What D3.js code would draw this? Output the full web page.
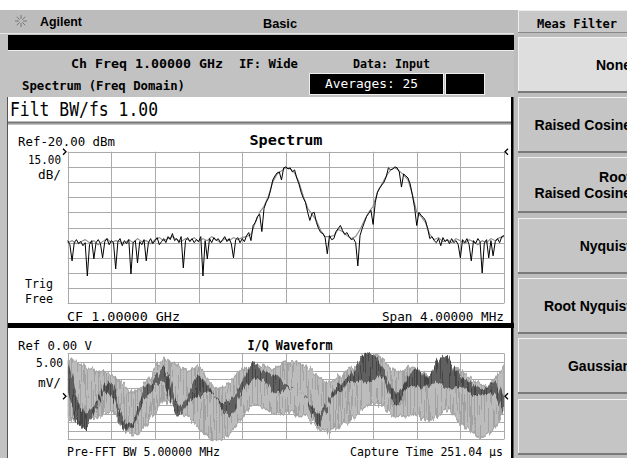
<!DOCTYPE html>
<html><head><meta charset="utf-8">
<script src="https://cdn.jsdelivr.net/npm/d3@7"></script>
<style>body{margin:0;background:#fff;overflow:hidden}svg{display:block}</style>
</head><body><svg id="c" width="627" height="458"></svg>
<script>
// ---------- DATA ----------
// Spectrum: CF 1.00000 GHz, span 4 MHz, Ref -20 dBm, 15 dB/div
const specSpanMHz = [-2, 2];
const specLevels = [-170, -20];
const specBlack = [
-108,-112,-128,-110,-107,-111,-109,-113,-110,-143,
-112,-108,-126,-110,-107,-111,-125,-109,-106,-112,
-108,-110,-136,-109,-106,-113,-108,-111,-107,-141,
-110,-108,-130,-109,-112,-107,-128,-110,-106,-111,
-108,-105,-112,-109,-106,-110,-104,-107,-101,-108,
-106,-110,-104,-135,-108,-105,-109,-106,-110,-107,
-109,-104,-143,-108,-126,-106,-110,-105,-108,-106,
-110,-107,-104,-109,-106,-111,-125,-107,-105,-110,
-106,-109,-103,-100,-108,-93,-90,-84,-82,-99,
-76,-70,-66,-58,-48,-44,-41,-40,-48,-36,
-35,-37,-36,-40,-38,-46,-52,-60,-66,-70,
-80,-88,-81,-80,-90,-96,-100,-101,-105,-121,
-103,-107,-106,-99,-96,-93,-98,-102,-100,-104,
-107,-106,-110,-133,-103,-96,-90,-84,-81,-78,
-92,-70,-60,-56,-53,-50,-45,-36,-38,-37,
-35,-36,-40,-55,-42,-44,-46,-52,-63,-75,
-93,-80,-83,-85,-88,-96,-106,-104,-108,-110,
-106,-113,-105,-109,-107,-111,-106,-110,-108,-112,
-125,-107,-110,-106,-112,-128,-108,-111,-106,-109,
-140,-110,-107,-125,-108,-123,-109,-106,-110,-104,
-103];
const specGray = [
-110,-108,-111,-109,-107,-110,-108,-112,-109,-106,
-110,-108,-109,-111,-107,-110,-106,-109,-108,-111,
-107,-105,-108,-106,-104,-107,-109,-106,-108,-105,
-109,-106,-108,-104,-107,-110,-106,-108,-105,-107,
-105,-104,-102,-90,-80,-74,-64,-50,-42,-39,
-36,-37,-41,-50,-64,-76,-82,-88,-98,-104,
-104,-103,-97,-99,-103,-106,-104,-97,-88,-80,
-74,-60,-52,-44,-38,-36,-39,-43,-48,-62,
-80,-84,-90,-102,-107,-105,-109,-107,-110,-106,
-108,-111,-107,-109,-112,-108,-110,-106,-108,-105,
-104];

// I/Q waveform: Ref 0 V (centre), 5 mV/div, capture time 251.04 us
const iqCaptureUs = 251.04;
const iqRangeMv = [-25, 25];
const iqLightHi = [20.9,19.8,16.3,14,14,6.4,0.6,6.4,15,23.8,18,12.2,19.8,6.4,3.5,9.3,15,19.8,18,15,20.9,19.8,18,10.5,6.4,12.2,16.3,20.9,25,22,12.2,16.3,18,9.3,18,20.9,14,10.5,4.6,8,18];
const iqLightLo = [-14,-12.8,-14,-12.8,-5.2,-18.6,-23.8,-19.8,-8,0.6,-9.3,-11,-16.9,-25.6,-25.6,-19.8,-11,-2.3,-8,-11,-8,-11,-11,-19.8,-21.5,-16.9,-14,-8,-2.3,-5.2,-14,-11,-8,-16.9,-11,-5.2,-16.9,-19.8,-25.6,-20.9,-8];
const iqDarkHi = [21,-8,-12,2,15,-15,-20,10,5,25.5,-12,0,15,5,-5,-2,5,25,12,15,5,5,0,-15,0,9,10,25,26,15,-2,8,21,5,25,25,8,10,0,12,0];
const iqDarkLo = [3,-20,-20,2,5,-22,-20,-1,5,12,-20,0,-2,5,-5,-16,5,10,12,-1,5,5,0,-25,0,2,10,8,8,15,-14,8,5,5,10,2,8,0,0,4,-10];

const topTexts = ["Ch Freq 1.00000 GHz", "IF: Wide", "Data: Input", "Spectrum (Freq Domain)", "Averages:  25"];
const softkeys = [["None"], ["Raised Cosine"], ["Root", "Raised Cosine"], ["Nyquist"], ["Root Nyquist"], ["Gaussian"], []];

// ---------- DRAW ----------
const svg = d3.select("#c");
const MONO = "'DejaVu Sans Mono', monospace";
const SANS = "'Liberation Sans', Arial, sans-serif";

function txt(g, x, y, s, o = {}) {
  const t = g.append("text").attr("x", x).attr("y", y).text(s)
    .attr("font-family", o.ff || MONO).attr("font-size", o.fs || 12.5)
    .attr("font-weight", o.fw || "normal").attr("fill", o.fill || "#000")
    .attr("text-anchor", o.anchor || "start");
  if (o.len) t.attr("textLength", o.len).attr("lengthAdjust", "spacingAndGlyphs");
  return t;
}
function chevron(g, x, y, dir) {
  // small ref-level marker; dir 1 = points right, -1 = points left
  g.append("path").attr("d", `M${x - 2 * dir},${y - 3}L${x + 1 * dir},${y}L${x - 2 * dir},${y + 3}`)
    .attr("fill", "none").attr("stroke", "#000").attr("stroke-width", 1.3);
}

const defs = svg.append("defs");
const pL = defs.append("pattern").attr("id", "pl").attr("width", 3).attr("height", 4).attr("patternUnits", "userSpaceOnUse");
pL.append("rect").attr("width", 3).attr("height", 4).attr("fill", "#bcbcbc");
pL.append("rect").attr("width", 1).attr("height", 4).attr("fill", "#a2a2a2");
const pD = defs.append("pattern").attr("id", "pd").attr("width", 3).attr("height", 4).attr("patternUnits", "userSpaceOnUse");
pD.append("rect").attr("width", 3).attr("height", 4).attr("fill", "#606060");
pD.append("rect").attr("width", 1).attr("height", 4).attr("fill", "#444");
// ragged "dense trace" look for the I/Q envelopes (styling only)
const flt = defs.append("filter").attr("id", "rag").attr("x", "-5%").attr("y", "-20%").attr("width", "110%").attr("height", "140%");
flt.append("feTurbulence").attr("type", "fractalNoise").attr("baseFrequency", "0.35 0.015").attr("numOctaves", 2).attr("seed", 4).attr("result", "n");
flt.append("feDisplacementMap").attr("in", "SourceGraphic").attr("in2", "n").attr("scale", 9)
  .attr("xChannelSelector", "R").attr("yChannelSelector", "G");
const clip = defs.append("clipPath").attr("id", "iqclip");

// background
svg.append("rect").attr("width", 627).attr("height", 458).attr("fill", "#fff");
svg.append("rect").attr("x", 0).attr("y", 10).attr("width", 627).attr("height", 448).attr("fill", "#c2c2c2");
// top bar
svg.append("rect").attr("x", 0).attr("y", 10).attr("width", 516).attr("height", 23).attr("fill", "#bcbcbc");
svg.append("line").attr("x1", 0).attr("x2", 516).attr("y1", 33.5).attr("y2", 33.5).attr("stroke", "#e8e8e8");
svg.append("rect").attr("x", 8).attr("y", 35).attr("width", 507).attr("height", 15).attr("fill", "#000");
svg.append("line").attr("x1", 8).attr("x2", 515).attr("y1", 50.5).attr("y2", 50.5).attr("stroke", "#eee");
// logo
const logo = svg.append("g").attr("stroke", "#777").attr("stroke-width", 1);
d3.range(8).forEach(k => {
  const a = k * Math.PI / 4;
  logo.append("line").attr("x1", 21 + 2 * Math.cos(a)).attr("y1", 21 + 2 * Math.sin(a))
    .attr("x2", 21 + 6 * Math.cos(a)).attr("y2", 21 + 6 * Math.sin(a));
});
txt(svg, 40, 26, "Agilent", { ff: SANS, fw: "bold", fs: 12.5, len: 42 });
txt(svg, 263, 28, "Basic", { ff: SANS, fw: "bold", fs: 13, len: 34 });

// info lines
txt(svg, 71, 68, topTexts[0], { fw: "bold", fs: 13, len: 152 });
txt(svg, 239, 68, topTexts[1], { fw: "bold", fs: 13, len: 59 });
txt(svg, 353, 68, topTexts[2], { fw: "bold", fs: 13, len: 77 });
txt(svg, 22, 90, topTexts[3], { fw: "bold", fs: 12.5, len: 163 });
svg.append("rect").attr("x", 309.5).attr("y", 73.5).attr("width", 134).attr("height", 21).attr("fill", "#000").attr("stroke", "#eee");
svg.append("rect").attr("x", 445.5).attr("y", 73.5).attr("width", 39).attr("height", 21).attr("fill", "#000").attr("stroke", "#eee");
txt(svg, 325, 88, topTexts[4], { fs: 12, fill: "#fff", len: 93 });

// Filt BW box
svg.append("rect").attr("x", 8).attr("y", 97).attr("width", 504).attr("height", 25).attr("fill", "#fff");
svg.append("line").attr("x1", 8).attr("x2", 513).attr("y1", 122.5).attr("y2", 122.5).attr("stroke", "#777").attr("stroke-width", 2);
txt(svg, 10, 116, "Filt BW/fs  1.00", { fs: 19, len: 148 });

// panels
svg.append("rect").attr("x", 8).attr("y", 125).attr("width", 504).attr("height", 198).attr("fill", "#fff");
svg.append("rect").attr("x", 8).attr("y", 328).attr("width", 504).attr("height", 130).attr("fill", "#fff");
svg.append("rect").attr("x", 7).attr("y", 323).attr("width", 507).attr("height", 5).attr("fill", "#000");
svg.append("line").attr("x1", 7.5).attr("x2", 7.5).attr("y1", 97).attr("y2", 458).attr("stroke", "#555");
svg.append("rect").attr("x", 511).attr("y", 97).attr("width", 2.5).attr("height", 361).attr("fill", "#000");

// ----- Spectrum -----
const sx = d3.scaleLinear().domain(specSpanMHz).range([67.7, 504]);
const sy = d3.scaleLinear().domain(specLevels).range([303.3, 151.7]);
const sg = svg.append("g");
sg.selectAll(".vx").data(d3.range(11)).join("line")
  .attr("x1", d => Math.round(sx(-2 + d * 0.4)) + 0.5).attr("x2", d => Math.round(sx(-2 + d * 0.4)) + 0.5)
  .attr("y1", sy(-20)).attr("y2", sy(-170)).attr("stroke", "#aaa");
sg.selectAll(".hy").data(d3.range(11)).join("line")
  .attr("y1", d => Math.round(sy(-20 - d * 15)) + 0.5).attr("y2", d => Math.round(sy(-20 - d * 15)) + 0.5)
  .attr("x1", sx(-2)).attr("x2", sx(2)).attr("stroke", "#aaa");
const nB = specBlack.length - 1, nG = specGray.length - 1;
const lineB = d3.line().x((d, i) => sx(specSpanMHz[0] + i * 4 / nB)).y(d => sy(d));
const lineG = d3.line().x((d, i) => sx(specSpanMHz[0] + i * 4 / nG)).y(d => sy(d));
sg.append("path").attr("d", lineG(specGray)).attr("fill", "none").attr("stroke", "#8a8a8a").attr("stroke-width", 1.1);
sg.append("path").attr("d", lineB(specBlack)).attr("fill", "none").attr("stroke", "#000").attr("stroke-width", 1);
txt(svg, 18, 146, "Ref-20.00 dBm", { len: 97 });
txt(svg, 286, 145, "Spectrum", { fw: "bold", fs: 14.5, anchor: "middle", len: 73 });
txt(svg, 61, 164, "15.00", { anchor: "end", len: 33 });
txt(svg, 61, 179, "dB/", { anchor: "end", len: 23 });
txt(svg, 25, 288, "Trig", { len: 28 });
txt(svg, 25, 303, "Free", { len: 28 });
txt(svg, 67, 321, "CF 1.00000 GHz", { len: 113 });
txt(svg, 504, 321, "Span  4.00000 MHz", { anchor: "end", len: 122 });
chevron(svg, 65, sy(-20), 1);
chevron(svg, 506, sy(-20), -1);

// ----- I/Q waveform -----
const ix = d3.scaleLinear().domain([0, iqCaptureUs]).range([67.7, 504]);
const iy = d3.scaleLinear().domain(iqRangeMv).range([439.3, 353.3]);
clip.append("rect").attr("x", ix(0)).attr("y", iy(25) - 2).attr("width", ix(iqCaptureUs) - ix(0)).attr("height", iy(-25) - iy(25) + 4);
const ig = svg.append("g");
ig.selectAll(".vx").data(d3.range(11)).join("line")
  .attr("x1", d => Math.round(ix(d * iqCaptureUs / 10)) + 0.5).attr("x2", d => Math.round(ix(d * iqCaptureUs / 10)) + 0.5)
  .attr("y1", iy(25)).attr("y2", iy(-25)).attr("stroke", "#aaa");
ig.selectAll(".hy").data(d3.range(11)).join("line")
  .attr("y1", d => Math.round(iy(25 - d * 5)) + 0.5).attr("y2", d => Math.round(iy(25 - d * 5)) + 0.5)
  .attr("x1", ix(0)).attr("x2", ix(iqCaptureUs)).attr("stroke", "#aaa");
const nI = iqLightHi.length - 1;
const tAt = i => ix(i * iqCaptureUs / nI);
const areaL = d3.area().curve(d3.curveBasis).x((d, i) => tAt(i)).y0((d, i) => iy(iqLightLo[i])).y1(d => iy(d));
const areaD = d3.area().curve(d3.curveBasis).x((d, i) => tAt(i)).y0((d, i) => iy(iqDarkLo[i])).y1(d => iy(d));
const wave = ig.append("g").attr("clip-path", "url(#iqclip)");
const wf = wave.append("g").attr("filter", "url(#rag)");
wf.append("path").attr("d", areaL(iqLightHi)).attr("fill", "url(#pl)").attr("stroke", "#a8a8a8").attr("stroke-width", 1.5);
wf.append("path").attr("d", areaD(iqDarkHi)).attr("fill", "url(#pd)").attr("stroke", "none");
txt(svg, 18, 350, "Ref 0.00  V", { len: 74 });
txt(svg, 290, 350, "I/Q Waveform", { fw: "bold", fs: 14, anchor: "middle", len: 85 });
txt(svg, 63, 367, "5.00", { anchor: "end", len: 27 });
txt(svg, 61, 387, "mV/", { anchor: "end", len: 23 });
chevron(svg, 65, iy(0), 1);
chevron(svg, 506, iy(0), -1);
txt(svg, 67, 456, "Pre-FFT BW 5.00000 MHz", { len: 153 });
txt(svg, 503, 456, "Capture Time 251.04 \u03BCs", { anchor: "end", len: 153 });

// ----- Softkeys -----
const sk = svg.append("g");
sk.append("rect").attr("x", 514).attr("y", 10).attr("width", 113).attr("height", 448).attr("fill", "#bdbdbd");
sk.append("rect").attr("x", 518).attr("y", 10).attr("width", 109).attr("height", 23).attr("fill", "#c8c8c8");
sk.append("line").attr("x1", 518).attr("x2", 627).attr("y1", 10.5).attr("y2", 10.5).attr("stroke", "#eee");
sk.append("line").attr("x1", 518.5).attr("x2", 518.5).attr("y1", 10).attr("y2", 33).attr("stroke", "#eee");
sk.append("line").attr("x1", 518).attr("x2", 627).attr("y1", 32.5).attr("y2", 32.5).attr("stroke", "#888");
txt(sk, 537, 28, "Meas Filter", { fw: "bold", fs: 12.5, len: 80 });
const btnTop = [37, 97, 157, 218, 278, 338, 399];
softkeys.forEach((lab, k) => {
  const y0 = btnTop[k], h = 56;
  sk.append("rect").attr("x", 518).attr("y", y0).attr("width", 109).attr("height", h)
    .attr("fill", k === 0 ? "#dedede" : "#c5c5c5");
  sk.append("line").attr("x1", 518).attr("x2", 627).attr("y1", y0 + 0.5).attr("y2", y0 + 0.5).attr("stroke", "#f2f2f2");
  sk.append("line").attr("x1", 518.5).attr("x2", 518.5).attr("y1", y0).attr("y2", y0 + h).attr("stroke", "#f2f2f2");
  sk.append("line").attr("x1", 518).attr("x2", 627).attr("y1", y0 + h - 1).attr("y2", y0 + h - 1).attr("stroke", "#7a7a7a").attr("stroke-width", 2);
  const cy = y0 + h / 2;
  lab.forEach((s, j) => {
    const yy = lab.length === 1 ? cy + 5 : cy - 3 + j * 16;
    txt(sk, 631, yy, s, { ff: SANS, fw: "bold", fs: 14, anchor: "end" });
  });
});
</script></body></html>
